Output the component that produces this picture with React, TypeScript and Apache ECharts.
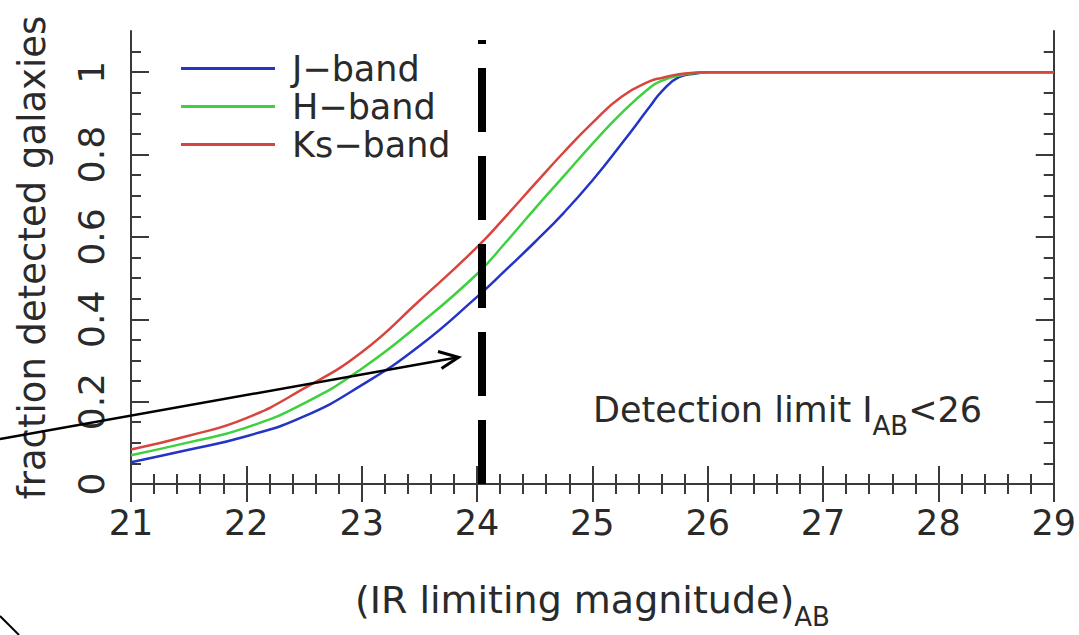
import React, { useEffect, useRef } from "react";
import * as echarts from "echarts";

// ---- data ----
const magnitudes = [21, 21.5, 22, 22.5, 23, 23.5, 24, 24.25, 24.5, 24.75, 25, 25.25, 25.5, 25.6, 25.75, 25.9, 26, 27, 28, 29];
const jBand = [0.053, 0.083, 0.116, 0.164, 0.24, 0.335, 0.4545, 0.52, 0.587, 0.658, 0.737, 0.825, 0.917, 0.953, 0.988, 0.997, 1, 1, 1, 1];
const hBand = [0.07, 0.101, 0.137, 0.196, 0.28, 0.388, 0.51, 0.587, 0.668, 0.747, 0.826, 0.9, 0.963, 0.979, 0.992, 0.998, 1, 1, 1, 1];
const ksBand = [0.084, 0.117, 0.16, 0.232, 0.32, 0.445, 0.575, 0.65, 0.728, 0.805, 0.877, 0.94, 0.978, 0.986, 0.995, 0.999, 1, 1, 1, 1];
const seriesNames = ["J−band", "H−band", "Ks−band"];
const seriesColors = ["#2434c4", "#3fd03f", "#d8443e"];
const yLabelValues = [0, 0.2, 0.4, 0.6, 0.8, 1];
const yMinorValues = [0.05, 0.1, 0.15, 0.25, 0.3, 0.35, 0.45, 0.5, 0.55, 0.65, 0.7, 0.75, 0.85, 0.9, 0.95, 1.05];
const detectionMag = 24.04;
const dashTop = 1.078;

const FONT = "DejaVu Sans";
const INK = "#2a2a2a";
const AXIS = "#3a3a3a";

function pairs(ys: number[]) {
  return magnitudes.map((x, i) => [x, ys[i]]);
}

export default function App() {
  const ref = useRef<HTMLDivElement>(null);
  useEffect(() => {
    if (!ref.current) return;
    const chart = echarts.init(ref.current, undefined, { renderer: "svg" });
    const baseX = {
      type: "value",
      min: 21,
      max: 29,
      interval: 1,
      splitLine: { show: false },
      axisLine: { show: true, lineStyle: { color: AXIS, width: 2 } },
      axisTick: { show: true, inside: true, length: 18, lineStyle: { color: AXIS, width: 2 } },
      minorTick: { show: true, splitNumber: 5, length: 10, lineStyle: { color: AXIS, width: 2 } },
    };
    const baseY = {
      type: "value",
      min: 0,
      max: 1.1,
      interval: 0.2,
      splitLine: { show: false },
    };
    const option: any = {
      animation: false,
      backgroundColor: "#ffffff",
      textStyle: { fontFamily: FONT },
      grid: { left: 131, right: 25, top: 31, bottom: 145 },
      legend: {
        orient: "vertical",
        left: 176,
        top: 46,
        itemWidth: 94,
        itemHeight: 3,
        itemGap: 3,
        icon: "rect",
        data: seriesNames,
        textStyle: { fontFamily: FONT, fontSize: 35, color: INK, lineHeight: 33, padding: [0, 0, 0, 12] },
      },
      xAxis: [
        {
          ...baseX,
          position: "bottom",
          name: "{m|(IR limiting magnitude)}{s|AB}",
          nameLocation: "middle",
          nameGap: 97,
          nameTextStyle: {
            rich: {
              m: { fontFamily: FONT, fontSize: 38, color: INK, verticalAlign: "top" },
              s: { fontFamily: FONT, fontSize: 26, color: INK, verticalAlign: "top", padding: [23, 0, 0, 0] },
            },
          },
          axisLabel: { show: true, fontFamily: FONT, fontSize: 35, color: INK, margin: 21 },
        },
        {
          ...baseX,
          position: "top",
          axisLabel: { show: false },
        },
      ],
      yAxis: [
        {
          ...baseY,
          position: "left",
          name: "fraction detected galaxies",
          nameLocation: "middle",
          nameGap: 80,
          nameTextStyle: { fontFamily: FONT, fontSize: 37, color: INK },
          axisLine: { show: true, lineStyle: { color: AXIS, width: 2 } },
          axisTick: { show: true, inside: true, length: 18, customValues: yLabelValues, lineStyle: { color: AXIS, width: 2 } },
          axisLabel: { show: true, customValues: yLabelValues, rotate: 90, fontFamily: FONT, fontSize: 36, color: INK, margin: 22 },
        },
        {
          ...baseY,
          position: "left",
          axisLine: { show: false },
          axisLabel: { show: false },
          axisTick: { show: true, inside: true, length: 10, customValues: yMinorValues, lineStyle: { color: AXIS, width: 2 } },
        },
        {
          ...baseY,
          position: "right",
          axisLine: { show: true, lineStyle: { color: AXIS, width: 2 } },
          axisLabel: { show: false },
          axisTick: { show: true, inside: true, length: 18, customValues: yLabelValues, lineStyle: { color: AXIS, width: 2 } },
        },
        {
          ...baseY,
          position: "right",
          axisLine: { show: false },
          axisLabel: { show: false },
          axisTick: { show: true, inside: true, length: 10, customValues: yMinorValues, lineStyle: { color: AXIS, width: 2 } },
        },
      ],
      series: [jBand, hBand, ksBand].map((ys, i) => ({
        type: "line",
        name: seriesNames[i],
        xAxisIndex: 0,
        yAxisIndex: 0,
        data: pairs(ys),
        symbol: "none",
        showSymbol: false,
        smooth: 0.5,
        color: seriesColors[i],
        itemStyle: { color: seriesColors[i] },
        lineStyle: { color: seriesColors[i], width: 2.5 },
        z: 3 + i,
        markLine:
          i === 0
            ? {
                silent: true,
                symbol: ["none", "none"],
                label: { show: false },
                animation: false,
                lineStyle: { color: "#000000", width: 8, type: [64, 24], opacity: 1 },
                data: [[{ coord: [detectionMag, 0] }, { coord: [detectionMag, dashTop] }]],
                z: 10,
              }
            : undefined,
      })),
      graphic: [
        {
          type: "text",
          x: 593,
          y: 392,
          z: 20,
          style: {
            text: "{m|Detection limit I}{s|AB}{m|<26}",
            align: "left",
            verticalAlign: "top",
            rich: {
              m: { fontFamily: FONT, fontSize: 35, fill: INK, color: INK, verticalAlign: "top" },
              s: { fontFamily: FONT, fontSize: 26, fill: INK, color: INK, verticalAlign: "top", padding: [21, 0, 0, 0] },
            },
          },
        },
        {
          type: "polyline",
          z: 20,
          shape: { points: [[0, 439], [457, 357.5]] },
          style: { stroke: "#000000", lineWidth: 2.5, fill: "none" },
        },
        {
          type: "polyline",
          z: 20,
          shape: { points: [[438, 351.5], [458.5, 357.3], [441.5, 368.5]] },
          style: { stroke: "#000000", lineWidth: 3, fill: "none", lineJoin: "miter" },
        },
        {
          type: "line",
          z: 20,
          shape: { x1: 0, y1: 616, x2: 19, y2: 635 },
          style: { stroke: "#000000", lineWidth: 2 },
        },
      ],
    };
    chart.setOption(option);
    return () => chart.dispose();
  }, []);
  return (
    <div
      ref={ref}
      style={{ position: "fixed", left: 0, top: 0, width: 1079, height: 635, background: "#fff" }}
    />
  );
}
